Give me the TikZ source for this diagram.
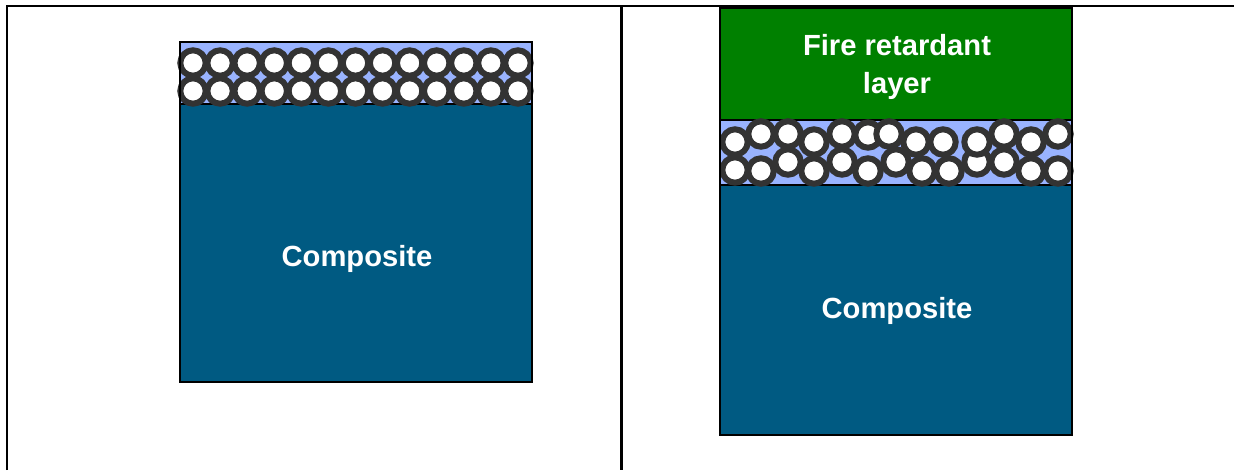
\documentclass[tikz,border=0pt]{standalone}
\usepackage{fontspec}
\setmainfont{Liberation Sans}

\definecolor{compblue}{HTML}{005A82}
\definecolor{fiberblue}{HTML}{99B3FF}
\definecolor{firegreen}{HTML}{008000}
\definecolor{ringgray}{HTML}{333333}

\begin{document}
\begin{tikzpicture}[x=0.02cm, y=-0.02cm,
  layer/.style={draw=black, line width=0.05cm},
  fiber/.style={draw=ringgray, fill=white, line width=0.12cm},
  grid/.style={draw=black, line width=0.06cm},
  lbl/.style={text=white, align=center, font=\fontsize{16.6}{21.5}\selectfont\bfseries}]
\useasboundingbox (0,0) rectangle (1234,470);

% Table lines
\draw[grid] (7,470) -- (7,6) -- (1234,6);
\draw[grid] (621,6) -- (621,470);

% Left: composite with fibre layer
\draw[layer, fill=fiberblue] (180,42) rectangle (532,104);
\draw[layer, fill=compblue] (180,104) rectangle (532,382);
\foreach \i in {0,...,12} {
  \draw[fiber] (193+27.08*\i,63) circle (12.7);
  \draw[fiber] (193+27.08*\i,91) circle (12.7);
}
\draw[layer] (180,42) rectangle (532,382);
\node[lbl] (compL) at (357,259) {Composite};

% Right: fire retardant layer on top of the fibres
\draw[layer, fill=firegreen] (720,8) rectangle (1072,120);
\draw[layer, fill=fiberblue] (720,120) rectangle (1072,185);
\draw[layer, fill=compblue] (720,185) rectangle (1072,435);
% lower row first, upper row sits on it
\foreach \x/\y in {735/170, 761/171, 788/162, 814/171, 842/162, 868/171, 896/162,
                   922/171, 949/171, 977/162, 1004/162, 1031/171, 1058/171} {
  \draw[fiber] (\x,\y) circle (12.7);
}
\foreach \x/\y in {735/142, 761/134, 788/134, 814/142, 842/134, 868/135, 889/134,
                   916/142, 943/142, 977/142, 1004/134, 1031/142, 1058/134} {
  \draw[fiber] (\x,\y) circle (12.7);
}
\draw[layer] (720,8) rectangle (1072,435);
\node[lbl] (fire) at (897,67) {Fire retardant\\layer};
\node[lbl] (compR) at (897,311) {Composite};
\end{tikzpicture}
\end{document}
